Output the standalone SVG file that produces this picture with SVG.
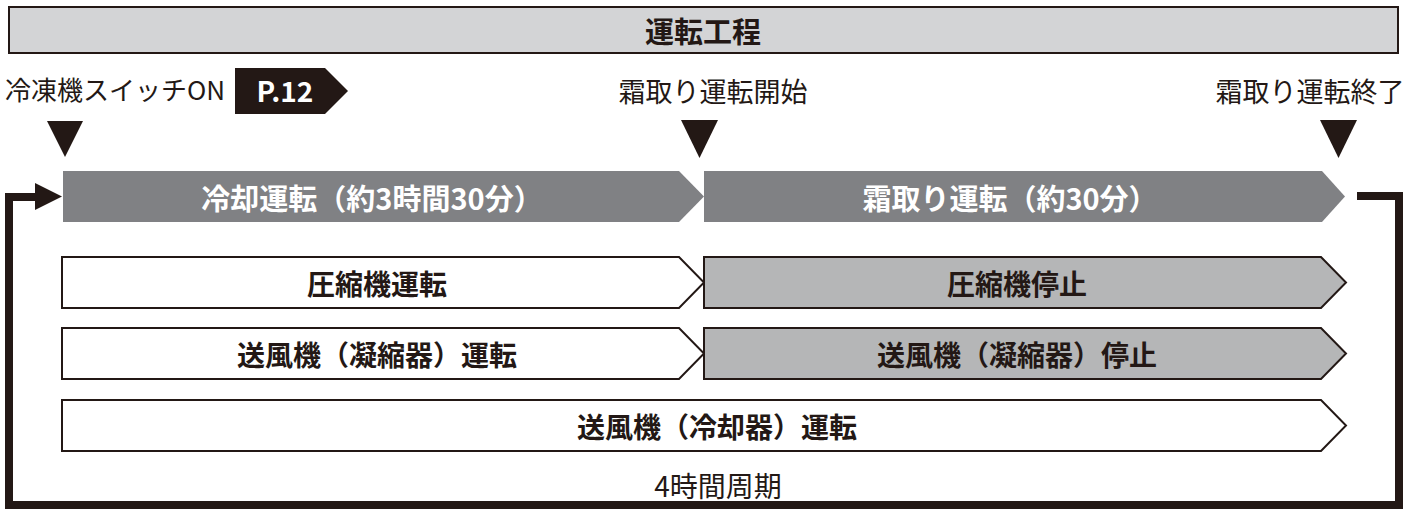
<svg xmlns="http://www.w3.org/2000/svg" width="1421" height="511" viewBox="0 0 1421 511">
<style>
text{font-family:"Noto Sans CJK JP","Noto Sans",sans-serif;dominant-baseline:central;text-anchor:middle}
.lbl{font-size:26px;fill:#231815;font-weight:400}
.b{font-size:28px;font-weight:700;fill:#231815}
.w{font-size:29px;font-weight:700;fill:#ffffff}
.phase{fill:#808184}
.on{fill:#ffffff;stroke:#231815;stroke-width:2}
.off{fill:#b5b6b7;stroke:#231815;stroke-width:2}
.mark{fill:#231815}
.loop{fill:none;stroke:#231815;stroke-width:8;stroke-linejoin:miter}
</style>
<g id="title">
<rect x="9" y="7" width="1389" height="46" fill="#d3d4d6" stroke="#231815" stroke-width="2"/>
<text class="b" x="703" y="30" style="font-size:29px">運転工程</text>
</g>
<g id="start">
<text class="lbl" x="115" y="88">冷凍機スイッチON</text>
<polygon class="mark" points="47,121 83,121 65,157"/>
</g>
<g id="page-ref">
<polygon class="mark" points="235,68 325,68 348,91 325,114 235,114"/>
<text x="285" y="90" style="font-size:28px;font-weight:700;fill:#fff">P.12</text>
</g>
<g id="defrost-start">
<text class="lbl" x="713" y="90" style="font-size:27px">霜取り運転開始</text>
<polygon class="mark" points="681,120 718,120 699.5,158"/>
</g>
<g id="defrost-end">
<text class="lbl" x="1310" y="90" style="font-size:27px">霜取り運転終了</text>
<polygon class="mark" points="1320,120 1357,120 1338.5,158"/>
</g>
<g id="cooling">
<polygon class="phase" points="63,171 679,171 704,196.5 679,222 63,222"/>
<text class="w" x="372" y="197">冷却運転（約3時間30分）</text>
</g>
<g id="defrost">
<polygon class="phase" points="704,171 1322,171 1345,196.5 1322,222 704,222"/>
<text class="w" x="1010" y="197">霜取り運転（約30分）</text>
</g>
<g id="compressor-run">
<polygon class="on" points="62,257 679,257 704,282.5 679,308 62,308"/>
<text class="b" x="377" y="283">圧縮機運転</text>
</g>
<g id="compressor-stop">
<polygon class="off" points="704,257 1321,257 1346,282.5 1321,308 704,308"/>
<text class="b" x="1017" y="283">圧縮機停止</text>
</g>
<g id="condenser-fan-run">
<polygon class="on" points="62,328 679,328 704,353.5 679,379 62,379"/>
<text class="b" x="377" y="354">送風機（凝縮器）運転</text>
</g>
<g id="condenser-fan-stop">
<polygon class="off" points="704,328 1321,328 1346,353.5 1321,379 704,379"/>
<text class="b" x="1017" y="354">送風機（凝縮器）停止</text>
</g>
<g id="cooler-fan-run">
<polygon class="on" points="62,400 1321,400 1346,425.5 1321,451 62,451"/>
<text class="b" x="717" y="426">送風機（冷却器）運転</text>
</g>
<g id="connectors">
<path class="loop" d="M1357,196 H1399 V505 H9 V197 H36"/>
<polygon class="mark" points="35,183 62,196.5 35,210"/>
<text class="lbl" x="718" y="485" style="font-size:28px">4時間周期</text>
</g>
</svg>
